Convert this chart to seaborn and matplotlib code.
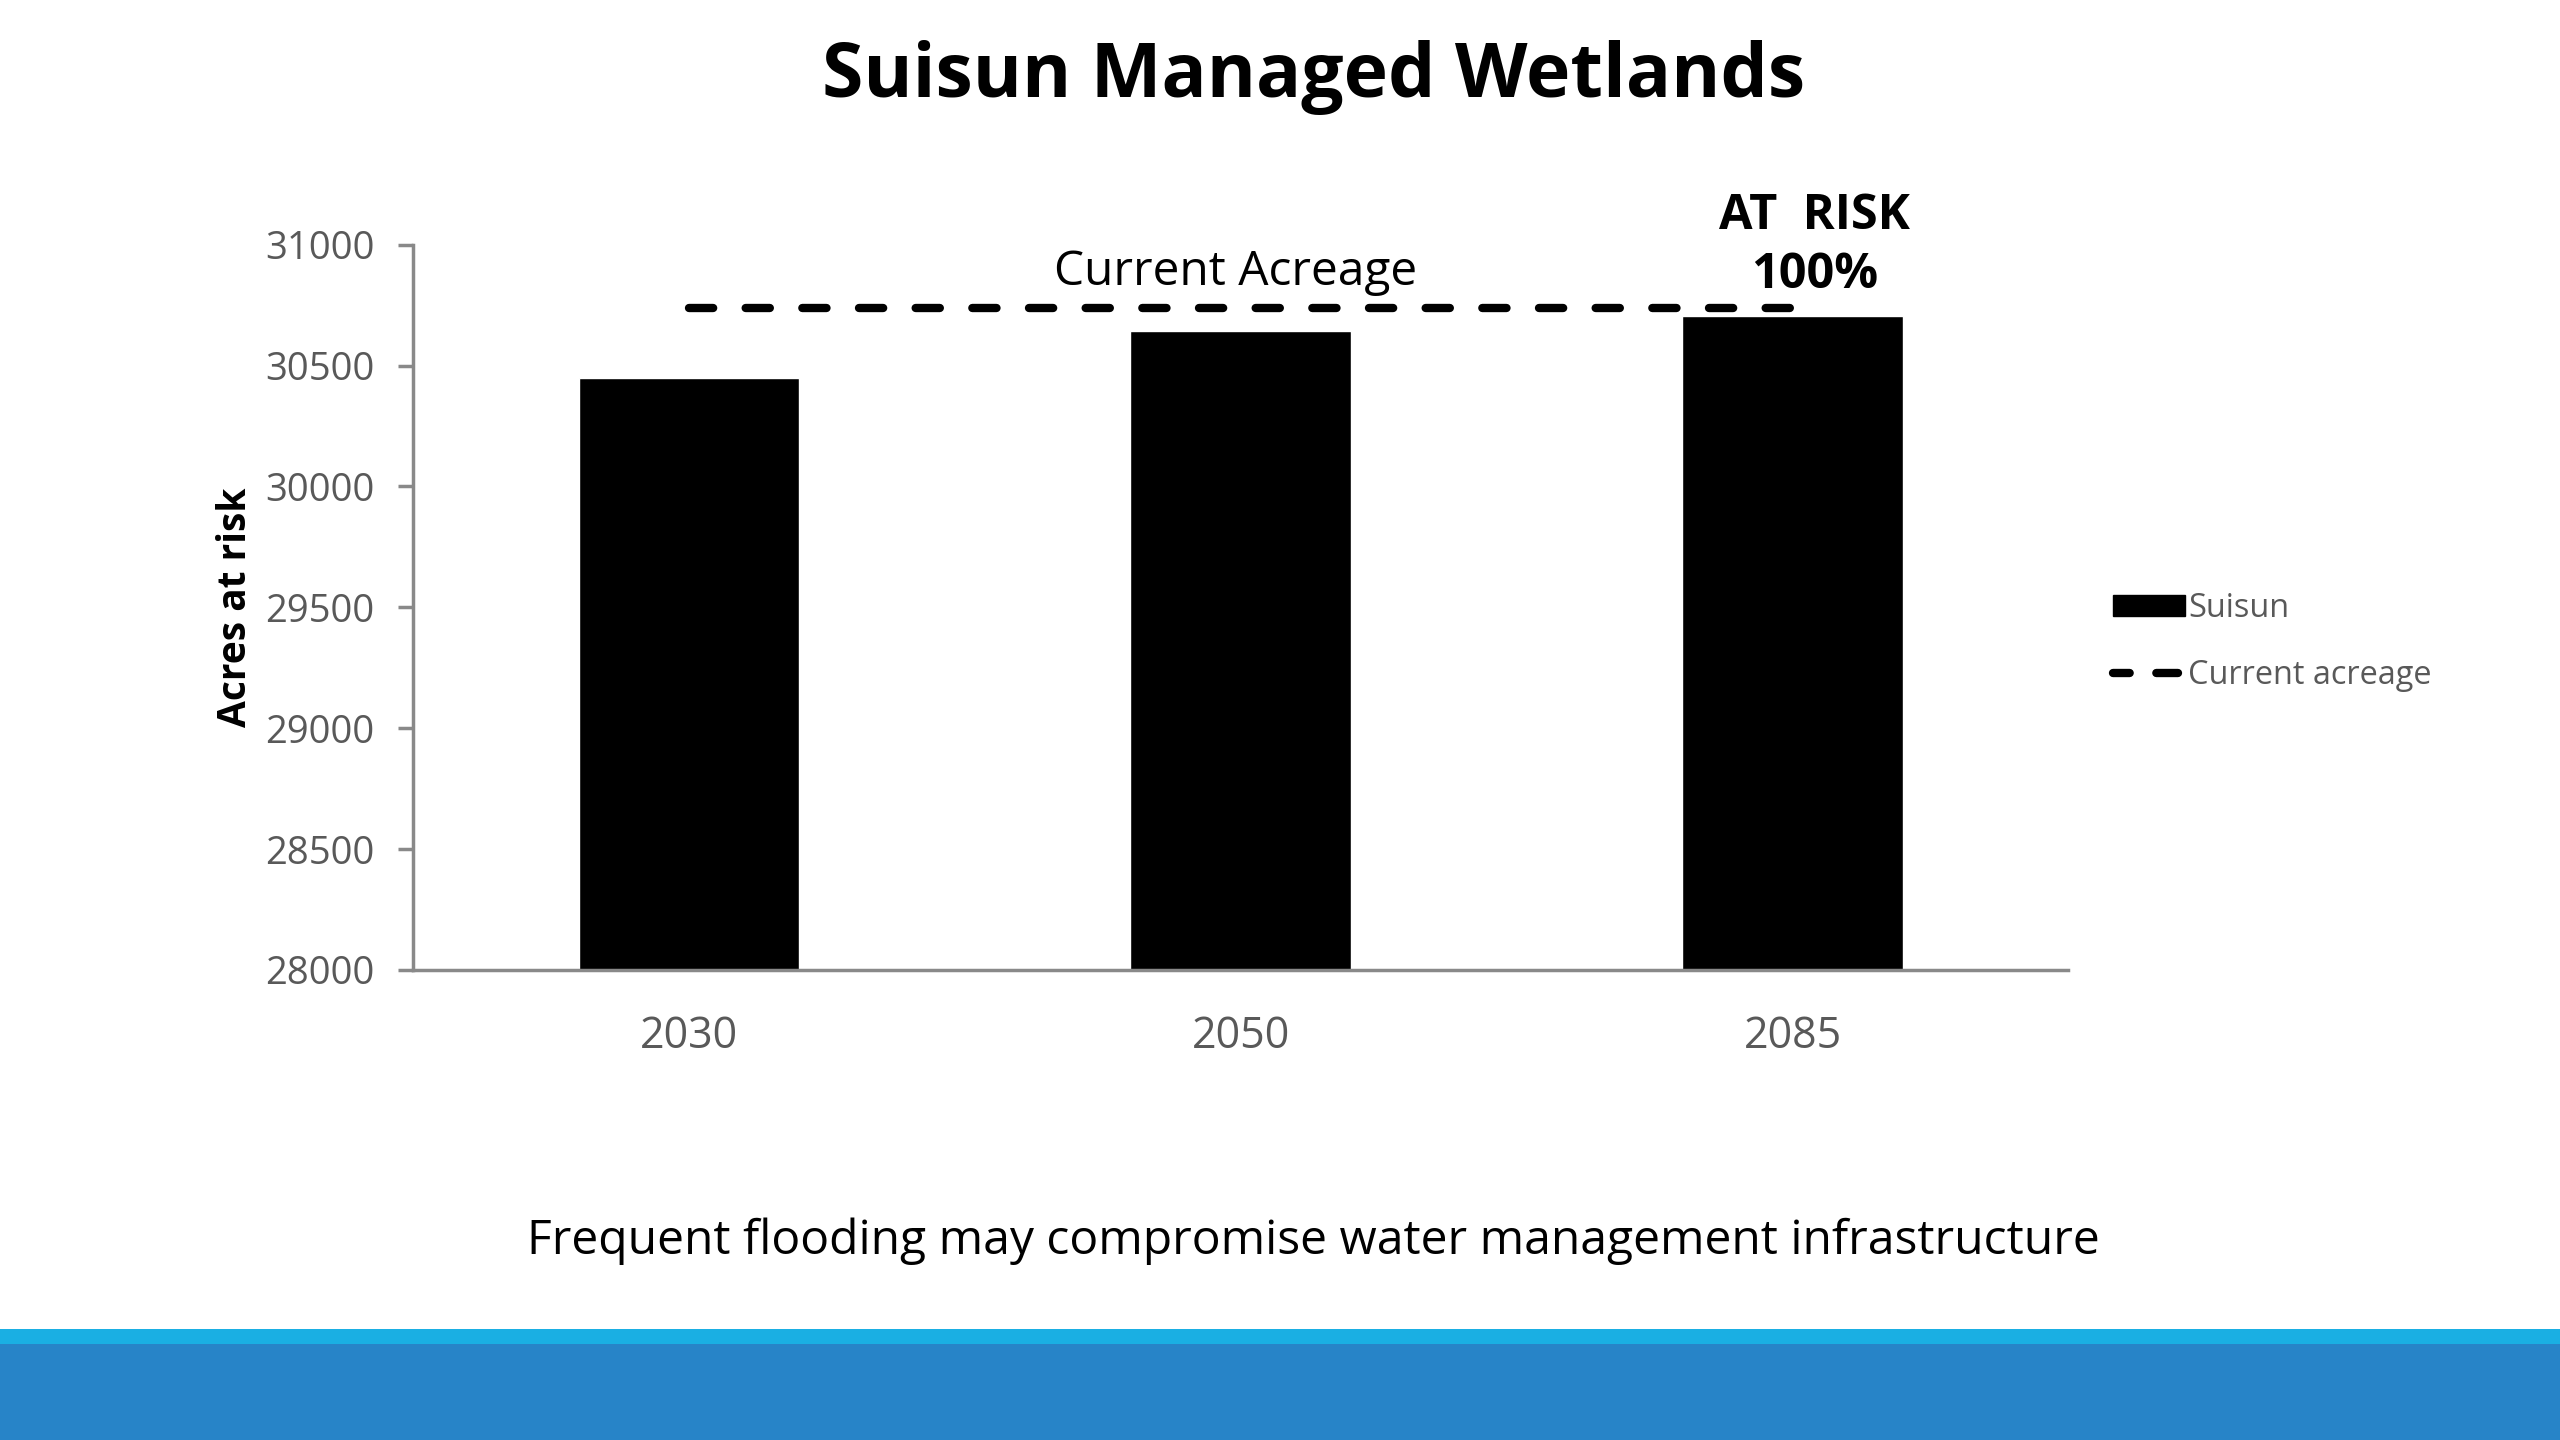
import matplotlib
matplotlib.use("Agg")
import matplotlib.pyplot as plt
import seaborn as sns
from matplotlib.patches import Rectangle, Patch
from matplotlib.lines import Line2D

# data
years = ["2030", "2050", "2085"]
acres_at_risk = [30450, 30645, 30705]
current_acreage = 30740
y_ticks = [28000, 28500, 29000, 29500, 30000, 30500, 31000]

title = "Suisun Managed Wetlands"
caption = "Frequent flooding may compromise water management infrastructure"

sns.set_theme(style="white")
plt.rcParams['font.family'] = ['Open Sans', 'DejaVu Sans']

GRAY_TXT = "#595959"
GRAY_AX = "#898989"

fig = plt.figure(figsize=(25.6, 14.4), dpi=100)
fig.patch.set_facecolor("white")
ax = fig.add_axes([0.1614, 0.3265, 0.8080 - 0.1614, 0.8300 - 0.3265])

sns.barplot(x=years, y=acres_at_risk, color="black", width=0.4,
            saturation=1, ax=ax)
ax.plot(range(len(years)), [current_acreage] * len(years), color="black",
        lw=6, ls=(0, (2.9, 3.9)), dash_capstyle="round")

ax.set_ylim(y_ticks[0], y_ticks[-1])
ax.set_xlim(-0.5, len(years) - 0.5)
ax.set_yticks(y_ticks)
ax.set_yticklabels([str(t) for t in y_ticks])
ax.tick_params(axis="y", left=True, direction="out", length=11, width=2.5,
               color=GRAY_AX, labelsize=27.5, labelcolor=GRAY_TXT, pad=17)
ax.tick_params(axis="x", bottom=False, length=0, labelsize=31,
               labelcolor=GRAY_TXT, pad=32)

sns.despine(ax=ax)
for side in ["left", "bottom"]:
    ax.spines[side].set_color(GRAY_AX)
    ax.spines[side].set_linewidth(2.5)

ax.set_xlabel("")
ax.set_ylabel("Acres at risk", fontsize=28, fontweight="bold",
              color="black", labelpad=7)

# annotations
ax.text(0.99, 30885, "Current Acreage", ha="center", va="center",
        fontsize=34.5, color="black")
ax.text(2.04, 30995, "AT  RISK\n100%", ha="center", va="center",
        fontsize=35, fontweight="bold", color="black", linespacing=1.25)

handles = [Patch(facecolor="black", edgecolor="black"),
           Line2D([0], [0], color="black", lw=6, ls=(0.6, (2.6, 3.2)),
                  dash_capstyle="round")]
fig.legend(handles, ["Suisun", "Current acreage"], loc="center left",
           bbox_to_anchor=(0.814, 0.554), frameon=False, fontsize=23.4,
           labelcolor=GRAY_TXT, handlelength=2.2, handletextpad=0.1,
           labelspacing=1.05, handleheight=0.6)

fig.text(0.513, 0.946, title, ha="center", va="center", fontsize=54,
         fontweight="bold", color="black")
fig.text(0.513, 0.138, caption, ha="center", va="center", fontsize=34.6,
         color="black")

# bottom band
fig.add_artist(Rectangle((0, 0), 1, 1 - 823 / 882, transform=fig.transFigure,
                         facecolor="#2784C8", edgecolor="none"))
fig.add_artist(Rectangle((0, 1 - 823 / 882), 1, 9 / 882,
                         transform=fig.transFigure,
                         facecolor="#1AAFE3", edgecolor="none"))

fig.savefig("out.png", dpi=100)
